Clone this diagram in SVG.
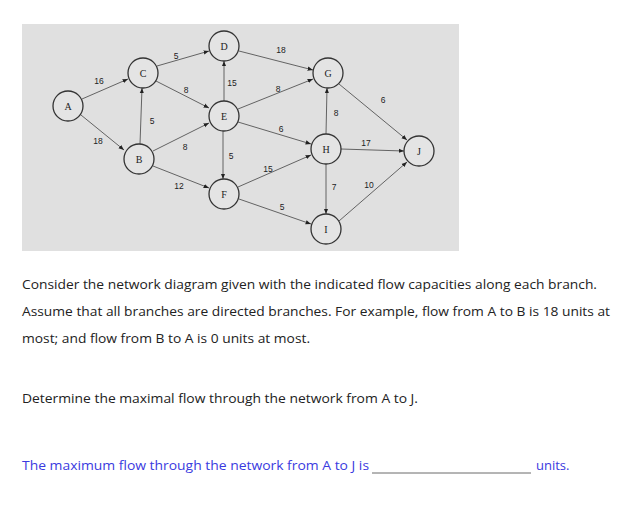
<svg xmlns="http://www.w3.org/2000/svg" width="638" height="509" viewBox="0 0 638 509">
<style>
.n circle{fill:#e4e4e4;stroke:#333;stroke-width:1.3}
.n text{font-family:"Liberation Serif",serif;font-size:10px;text-anchor:middle;fill:#222}
.c line{stroke:#555;stroke-width:0.9;marker-end:url(#ar)}
.l{font-family:"Liberation Sans",sans-serif;font-size:8.5px;fill:#222;text-anchor:middle}
.t{font-family:"Open Sans","Liberation Sans",sans-serif;font-size:13px;fill:#222}
</style>
<defs><marker id="ar" viewBox="0 0 10 10" refX="10" refY="5" markerWidth="6" markerHeight="6" orient="auto"><path d="M0,1 L10,5 L0,9z" fill="#222"/></marker></defs>
<rect x="22" y="24" width="437" height="227" fill="#e0e0e0"/>
<g class="c">
<line x1="82" y1="99" x2="128" y2="79"/>
<line x1="81" y1="115" x2="124" y2="150"/>
<line x1="140" y1="144" x2="142" y2="88"/>
<line x1="157" y1="66" x2="209" y2="51"/>
<line x1="156" y1="81" x2="209" y2="108"/>
<line x1="153" y1="151" x2="209" y2="123"/>
<line x1="153" y1="166" x2="209" y2="188"/>
<line x1="224" y1="101" x2="224" y2="61"/>
<line x1="223" y1="131" x2="223" y2="179"/>
<line x1="239" y1="51" x2="313" y2="70"/>
<line x1="238" y1="109" x2="313" y2="79"/>
<line x1="238" y1="122" x2="311" y2="144"/>
<line x1="238" y1="187" x2="311" y2="155"/>
<line x1="239" y1="199" x2="311" y2="224"/>
<line x1="326" y1="134" x2="327" y2="88"/>
<line x1="326" y1="164" x2="326" y2="214"/>
<line x1="341" y1="149" x2="404" y2="151"/>
<line x1="339" y1="84" x2="407" y2="140"/>
<line x1="339" y1="221" x2="407" y2="162"/>
</g>
<g class="l">
<text x="99" y="84">16</text><text x="98" y="144">18</text><text x="176" y="59">5</text>
<text x="186" y="93">8</text><text x="232" y="86">15</text><text x="152" y="124">5</text>
<text x="185" y="150">8</text><text x="179" y="189">12</text><text x="231" y="159">5</text>
<text x="281" y="53">18</text><text x="278" y="92">8</text><text x="281" y="132">6</text>
<text x="268" y="172">15</text><text x="282" y="210">5</text><text x="336" y="116">8</text>
<text x="383" y="103">6</text><text x="366" y="146">17</text><text x="334" y="190">7</text><text x="369" y="188">10</text>
</g>
<g id="A" class="n"><circle cx="68" cy="106" r="15"/><text x="68" y="110">A</text></g>
<g id="B" class="n"><circle cx="139" cy="159" r="15"/><text x="139" y="163">B</text></g>
<g id="C" class="n"><circle cx="143" cy="73" r="15"/><text x="143" y="77">C</text></g>
<g id="D" class="n"><circle cx="224" cy="46" r="15"/><text x="224" y="50">D</text></g>
<g id="E" class="n"><circle cx="224" cy="116" r="15"/><text x="224" y="120">E</text></g>
<g id="F" class="n"><circle cx="224" cy="194" r="15"/><text x="224" y="198">F</text></g>
<g id="G" class="n"><circle cx="328" cy="73" r="15"/><text x="328" y="77">G</text></g>
<g id="H" class="n"><circle cx="326" cy="149" r="15"/><text x="326" y="153">H</text></g>
<g id="I" class="n"><circle cx="326" cy="229" r="15"/><text x="326" y="233">I</text></g>
<g id="J" class="n"><circle cx="419" cy="151" r="15"/><text x="419" y="155">J</text></g>
<text class="t" x="22" y="289" textLength="575" lengthAdjust="spacingAndGlyphs">Consider the network diagram given with the indicated flow capacities along each branch.</text>
<text class="t" x="22" y="316" textLength="588" lengthAdjust="spacingAndGlyphs">Assume that all branches are directed branches. For example, flow from A to B is 18 units at</text>
<text class="t" x="22" y="343" textLength="288" lengthAdjust="spacingAndGlyphs">most; and flow from B to A is 0 units at most.</text>
<text class="t" x="22" y="403" textLength="396" lengthAdjust="spacingAndGlyphs">Determine the maximal flow through the network from A to J.</text>
<text class="t" x="22" y="470" style="fill:#3a3ae0" textLength="347" lengthAdjust="spacingAndGlyphs">The maximum flow through the network from A to J is</text>
<line x1="372" y1="473" x2="531" y2="473" stroke="#444" stroke-width="0.8"/>
<text class="t" x="536" y="470" style="fill:#3a3ae0">units.</text>
</svg>
